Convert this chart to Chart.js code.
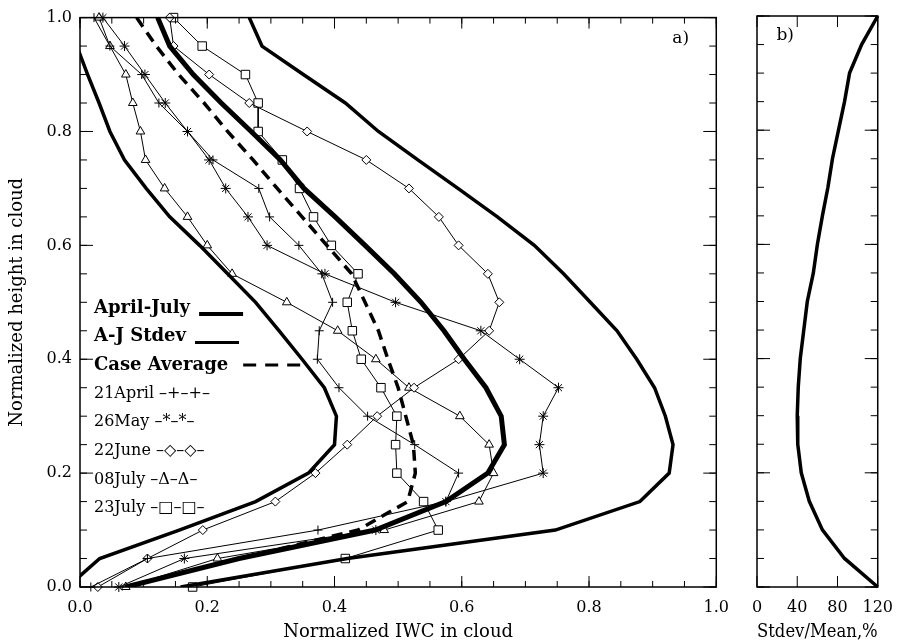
<!DOCTYPE html>
<html>
<head>
<meta charset="utf-8">
<script src="https://cdn.jsdelivr.net/npm/chart.js@4.4.1/dist/chart.umd.min.js"></script>
<style>
  body { margin: 0; background: #fff; }
  #wrap { position: relative; width: 904px; height: 643px; }
  #chartA { position: absolute; left: 0; top: 0; }
  #chartB { position: absolute; left: 740px; top: 0; }
</style>
</head>
<body>
<div id="wrap">
  <canvas id="chartA" width="740" height="643"></canvas>
  <canvas id="chartB" width="164" height="643"></canvas>
</div>
<script>
// Normalized height levels, cloud top to cloud base
const heights = [1.00, 0.95, 0.90, 0.85, 0.80, 0.75, 0.70, 0.65, 0.60, 0.55, 0.50,
                 0.45, 0.40, 0.35, 0.30, 0.25, 0.20, 0.15, 0.10, 0.05, 0.00];

// April-July mean profile and mean +/- stdev
const ajMean  = [0.122, 0.141, 0.178, 0.222, 0.269, 0.315, 0.352, 0.401, 0.448, 0.494, 0.536,
                 0.572, 0.604, 0.638, 0.662, 0.667, 0.641, 0.575, 0.464, 0.250, 0.072];
const ajLow   = [-0.022, -0.005, 0.012, 0.030, 0.047, 0.070, 0.104, 0.141, 0.188, 0.232, 0.276,
                 0.313, 0.349, 0.384, 0.403, 0.400, 0.359, 0.276, 0.156, 0.031, -0.020];
const ajHigh  = [0.266, 0.286, 0.351, 0.417, 0.469, 0.531, 0.594, 0.656, 0.714, 0.760, 0.802,
                 0.844, 0.875, 0.903, 0.920, 0.932, 0.926, 0.880, 0.747, 0.420, 0.158];
const caseAvg = [0.089, 0.120, 0.155, 0.195, 0.232, 0.272, 0.310, 0.349, 0.388, 0.427, 0.448,
                 0.469, 0.484, 0.500, 0.512, 0.524, 0.527, 0.515, 0.437, 0.250, 0.070];

// Individual cases
const apr21 = [0.022, 0.047, 0.097, 0.124, 0.169, 0.209, 0.281, 0.298, 0.344, 0.380, 0.397,
               0.376, 0.373, 0.407, 0.452, 0.526, 0.595, 0.575, 0.374, 0.106, 0.017];
const may26 = [0.036, 0.070, 0.102, 0.134, 0.169, 0.203, 0.229, 0.264, 0.294, 0.385, 0.496,
               0.630, 0.691, 0.752, 0.728, 0.722, 0.728, 0.575, 0.465, 0.164, 0.061];
const jun22 = [0.141, 0.147, 0.203, 0.266, 0.357, 0.450, 0.517, 0.564, 0.595, 0.641, 0.659,
               0.643, 0.595, 0.525, 0.467, 0.420, 0.370, 0.307, 0.193, 0.106, 0.028];
const jul08 = [0.030, 0.047, 0.072, 0.083, 0.095, 0.103, 0.133, 0.169, 0.200, 0.239, 0.325,
               0.405, 0.465, 0.517, 0.597, 0.643, 0.650, 0.627, 0.478, 0.216, 0.072];
const jul23 = [0.147, 0.192, 0.260, 0.280, 0.280, 0.318, 0.345, 0.367, 0.395, 0.437, 0.420,
               0.428, 0.442, 0.473, 0.498, 0.496, 0.498, 0.540, 0.563, 0.417, 0.177];

// Panel b: stdev / mean in percent
const stdevPct = [120, 104, 92, 87, 81, 75, 70.5, 65, 60, 56, 50,
                  46.5, 43, 41, 40, 40.5, 44, 52, 65, 87, 120];

const pts = xs => xs.map((v, i) => ({ x: v, y: heights[i] }));

Chart.defaults.font.family = 'DejaVu Serif';
Chart.defaults.font.size = 16;
Chart.defaults.color = '#000';

// box around the plot with inward IDL style ticks
function tickLines(ctx, scale, from, to, step, len, horiz, area) {
  for (let v = from; v <= to + 1e-9; v += step) {
    const p = scale.getPixelForValue(v);
    ctx.beginPath();
    if (horiz) {
      ctx.moveTo(p, area.bottom); ctx.lineTo(p, area.bottom - len);
      ctx.moveTo(p, area.top); ctx.lineTo(p, area.top + len);
    } else {
      ctx.moveTo(area.left, p); ctx.lineTo(area.left + len, p);
      ctx.moveTo(area.right, p); ctx.lineTo(area.right - len, p);
    }
    ctx.stroke();
  }
}

function framePlugin(xMajor, xMinor) {
  return {
    id: 'frame',
    afterDraw(chart) {
      const { ctx, chartArea: a, scales: { x, y } } = chart;
      ctx.save();
      ctx.strokeStyle = '#000';
      ctx.lineWidth = 1.5;
      ctx.strokeRect(a.left, a.top, a.right - a.left, a.bottom - a.top);
      ctx.lineWidth = 1;
      tickLines(ctx, x, x.min, x.max, xMajor, 11, true, a);
      if (xMinor) tickLines(ctx, x, x.min, x.max, xMinor, 6, true, a);
      tickLines(ctx, y, 0, 1, 0.2, 13, false, a);
      tickLines(ctx, y, 0, 1, 0.05, 7, false, a);
      ctx.restore();
    }
  };
}

const legendRows = [
  { text: 'April-July', y: 0.490, bold: true, sample: 'thick' },
  { text: 'A-J Stdev', y: 0.440, bold: true, sample: 'solid' },
  { text: 'Case Average', y: 0.390, bold: true, sample: 'dash' },
  { text: '21April \u2013+\u2013+\u2013', y: 0.340 },
  { text: '26May \u2013*\u2013*\u2013', y: 0.290 },
  { text: '22June \u2013\u25C7\u2013\u25C7\u2013', y: 0.239 },
  { text: '08July \u2013\u0394\u2013\u0394\u2013', y: 0.189 },
  { text: '23July \u2013\u25A1\u2013\u25A1\u2013', y: 0.139 }
];

const legendPlugin = {
  id: 'caseLegend',
  afterDraw(chart) {
    const { ctx, scales: { x, y } } = chart;
    ctx.save();
    ctx.fillStyle = '#000';
    ctx.strokeStyle = '#000';
    ctx.textBaseline = 'middle';
    const x0 = x.getPixelForValue(0.022);
    legendRows.forEach(r => {
      const py = y.getPixelForValue(r.y);
      ctx.font = (r.bold ? 'bold 18px' : '16px') + ' "DejaVu Serif"';
      ctx.fillText(r.text, x0, py);
      if (r.sample) {
        const sx = x0 + ctx.measureText(r.text).width + 9;
        ctx.beginPath();
        if (r.sample === 'dash') {
          ctx.lineWidth = 3;
          ctx.setLineDash([13, 9]);
          ctx.moveTo(sx + 6, py); ctx.lineTo(sx + 64, py);
        } else {
          ctx.lineWidth = r.sample === 'thick' ? 4 : 3;
          ctx.moveTo(sx, py + 6); ctx.lineTo(sx + 44, py + 6);
        }
        ctx.stroke();
        ctx.setLineDash([]);
      }
    });
    ctx.font = '17px "DejaVu Serif"';
    ctx.textAlign = 'center';
    ctx.fillText('a)', x.getPixelForValue(0.944), y.getPixelForValue(0.963));
    ctx.restore();
  }
};

const caseStyle = (label, data, style, r) => ({
  label, data: pts(data), showLine: true, borderColor: '#000', borderWidth: 1,
  pointStyle: style, pointRadius: r, pointBorderWidth: 1, pointBorderColor: '#000',
  pointBackgroundColor: '#fff', clip: false
});

new Chart(document.getElementById('chartA'), {
  type: 'scatter',
  data: {
    datasets: [
      { label: 'April-July', data: pts(ajMean), showLine: true, borderColor: '#000', borderWidth: 5, pointRadius: 0 },
      { label: 'A-J Stdev low', data: pts(ajLow), showLine: true, borderColor: '#000', borderWidth: 3.5, pointRadius: 0, clip: 0 },
      { label: 'A-J Stdev high', data: pts(ajHigh), showLine: true, borderColor: '#000', borderWidth: 3.5, pointRadius: 0, clip: 0 },
      { label: 'Case Average', data: pts(caseAvg), showLine: true, borderColor: '#000', borderWidth: 3.5, borderDash: [11, 7], pointRadius: 0 },
      caseStyle('21April', apr21, 'cross', 4.5),
      caseStyle('26May', may26, 'star', 5),
      caseStyle('22June', jun22, 'rectRot', 4.5),
      caseStyle('08July', jul08, 'triangle', 5),
      caseStyle('23July', jul23, 'rect', 6)
    ]
  },
  options: {
    responsive: false,
    animation: false,
    events: [],
    layout: { padding: { top: 16, right: 20, left: 0, bottom: 0 } },
    plugins: { legend: { display: false }, tooltip: { enabled: false } },
    scales: {
      x: {
        type: 'linear', min: 0, max: 1,
        grid: { display: false, drawTicks: false }, border: { display: false },
        ticks: { stepSize: 0.2, padding: 11, autoSkip: false, maxRotation: 0, callback: v => v.toFixed(1) },
        title: { display: true, text: 'Normalized IWC in cloud', font: { size: 18 }, padding: { top: 0, bottom: 0 } },
        afterFit(s) { s.height = 56; }
      },
      y: {
        type: 'linear', min: 0, max: 1,
        grid: { display: false, drawTicks: false }, border: { display: false },
        ticks: { stepSize: 0.2, padding: 8, autoSkip: false, callback: v => v.toFixed(1) },
        title: { display: true, text: 'Normalized height in cloud', font: { size: 18 }, padding: { top: 7, bottom: 0 } },
        afterFit(s) { s.width = 80; }
      }
    }
  },
  plugins: [framePlugin(0.2, 0.05), legendPlugin]
});

const labelB = {
  id: 'labelB',
  afterDraw(chart) {
    const { ctx, scales: { x, y } } = chart;
    ctx.save();
    ctx.font = '17px "DejaVu Serif"';
    ctx.textAlign = 'center';
    ctx.textBaseline = 'middle';
    ctx.fillStyle = '#000';
    ctx.fillText('b)', x.getPixelForValue(28), y.getPixelForValue(0.966));
    ctx.restore();
  }
};

new Chart(document.getElementById('chartB'), {
  type: 'scatter',
  data: {
    datasets: [
      { label: 'Stdev/Mean', data: pts(stdevPct), showLine: true, borderColor: '#000', borderWidth: 3.5, pointRadius: 0, clip: false }
    ]
  },
  options: {
    responsive: false,
    animation: false,
    events: [],
    layout: { padding: { top: 16, right: 19, left: 17, bottom: 0 } },
    plugins: { legend: { display: false }, tooltip: { enabled: false } },
    scales: {
      x: {
        type: 'linear', min: 0, max: 120,
        grid: { display: false, drawTicks: false }, border: { display: false },
        ticks: { stepSize: 40, padding: 11, autoSkip: false, maxRotation: 0 },
        title: { display: true, text: 'Stdev/Mean,%', font: { size: 18 }, padding: { top: 0, bottom: 0 } },
        afterFit(s) { s.height = 56; }
      },
      y: { type: 'linear', min: 0, max: 1, display: false }
    }
  },
  plugins: [framePlugin(40, null), labelB]
});
</script>
</body>
</html>
